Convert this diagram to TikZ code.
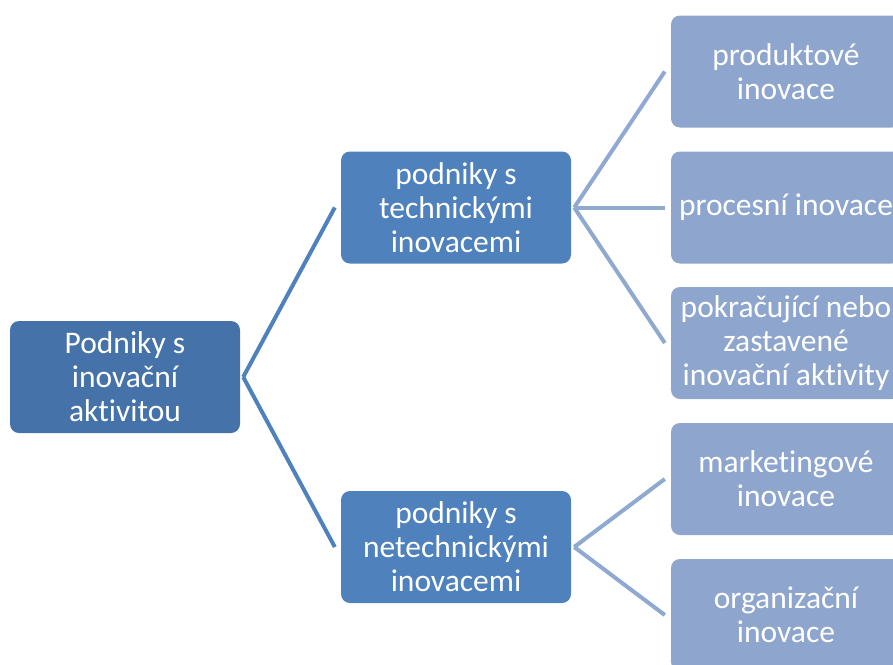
\documentclass[tikz,border=0pt]{standalone}
\usepackage{fontspec}
\setmainfont[Ligatures=NoCommon]{Carlito}
\usetikzlibrary{positioning}
\definecolor{rootblue}{HTML}{4672AA}
\definecolor{midblue}{HTML}{4F81BD}
\definecolor{leafblue}{HTML}{8EA6CE}
\definecolor{leafline}{HTML}{8FA9D1}
\def\leafx{786}
\tikzstyle{box}=[rectangle, rounded corners=9pt, minimum width=230pt, minimum height=112pt, inner sep=0pt, align=center, text=white, font=\fontsize{31.5}{34}\selectfont]
\tikzstyle{root box}=[box, fill=rootblue]
\tikzstyle{mid box}=[box, fill=midblue]
\tikzstyle{leaf box}=[box, fill=leafblue]
\tikzstyle{root link}=[draw=midblue, line width=4pt]
\tikzstyle{leaf link}=[draw=leafline, line width=4pt]

\begin{document}
\begin{tikzpicture}[x=1pt, y=-1pt]
		\useasboundingbox (0,0) rectangle (893,664);
		\clip (0,0) rectangle (893,664);
		% Root and the two groups
		\node[root box] (R) at (125, 377) {Podniky s\\inovační\\aktivitou};
		\node[mid box] (M-1) at (456, 207.5) {podniky s\\technickými\\inovacemi};
		\node[mid box] (M-2) at (456, 547) {podniky s\\netechnickými\\inovacemi};

		% Leaves
		\node[leaf box] (L-1) at (\leafx, 71.5) {produktové\\inovace};
		\node[leaf box] (L-2) at (\leafx, 207.5) {procesní inovace};
		\node[leaf box] (L-3) at (\leafx, 343) {pokračující nebo\\zastavené\\inovační aktivity};
		\node[leaf box] (L-4) at (\leafx, 479) {marketingové\\inovace};
		\node[leaf box] (L-5) at (\leafx, 615) {organizační\\inovace};

		% Root to groups
		\foreach \dest in {1,2}
		\path[root link] ([xshift=3pt]R.east) -- ([xshift=-6pt]M-\dest.west);

		% Groups to leaves
		\foreach \dest in {1,2,3}
		\path[leaf link] ([xshift=3pt]M-1.east) -- ([xshift=-6pt]L-\dest.west);
		\foreach \dest in {4,5}
		\path[leaf link] ([xshift=3pt]M-2.east) -- ([xshift=-6pt]L-\dest.west);
	\end{tikzpicture}
\end{document}
